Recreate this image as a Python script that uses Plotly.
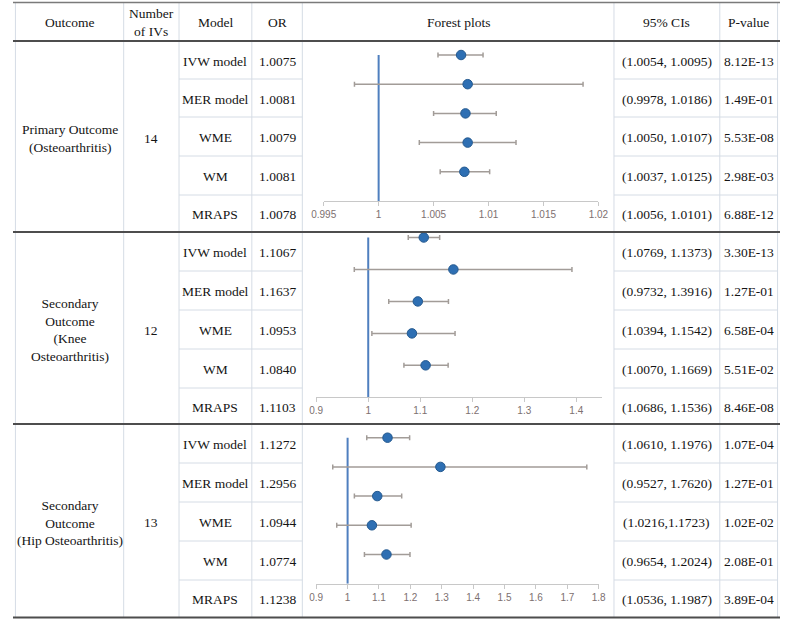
import plotly.graph_objects as go

W, H = 790, 620

# ---------------- data ----------------
outcomes = ["Primary Outcome<br>(Osteoarthritis)",
            "Secondary<br>Outcome<br>(Knee<br>Osteoarthritis)",
            "Secondary<br>Outcome<br>(Hip Osteoarthritis)"]
n_ivs = ["14", "12", "13"]
models = ["IVW model", "MER model", "WME", "WM", "MRAPS"]

or_primary = [1.0075, 1.0081, 1.0079, 1.0081, 1.0078]
lo_primary = [1.0054, 0.9978, 1.0050, 1.0037, 1.0056]
hi_primary = [1.0095, 1.0186, 1.0107, 1.0125, 1.0101]
p_primary = ["8.12E-13", "1.49E-01", "5.53E-08", "2.98E-03", "6.88E-12"]
ci_primary = ["(1.0054, 1.0095)", "(0.9978, 1.0186)", "(1.0050, 1.0107)",
              "(1.0037, 1.0125)", "(1.0056, 1.0101)"]

or_knee = [1.1067, 1.1637, 1.0953, 1.0840, 1.1103]
lo_knee = [1.0769, 0.9732, 1.0394, 1.0070, 1.0686]
hi_knee = [1.1373, 1.3916, 1.1542, 1.1669, 1.1536]
p_knee = ["3.30E-13", "1.27E-01", "6.58E-04", "5.51E-02", "8.46E-08"]
ci_knee = ["(1.0769, 1.1373)", "(0.9732, 1.3916)", "(1.0394, 1.1542)",
           "(1.0070, 1.1669)", "(1.0686, 1.1536)"]

or_hip = [1.1272, 1.2956, 1.0944, 1.0774, 1.1238]
lo_hip = [1.0610, 0.9527, 1.0216, 0.9654, 1.0536]
hi_hip = [1.1976, 1.7620, 1.1723, 1.2024, 1.1987]
p_hip = ["1.07E-04", "1.27E-01", "1.02E-02", "2.08E-01", "3.89E-04"]
ci_hip = ["(1.0610, 1.1976)", "(0.9527, 1.7620)", "(1.0216,1.1723)",
          "(0.9654, 1.2024)", "(1.0536, 1.1987)"]

ticks_primary = [0.995, 1, 1.005, 1.01, 1.015, 1.02]
ticklabels_primary = ["0.995", "1", "1.005", "1.01", "1.015", "1.02"]
ticks_knee = [0.9, 1, 1.1, 1.2, 1.3, 1.4]
ticklabels_knee = ["0.9", "1", "1.1", "1.2", "1.3", "1.4"]
ticks_hip = [0.9, 1, 1.1, 1.2, 1.3, 1.4, 1.5, 1.6, 1.7, 1.8]
ticklabels_hip = ["0.9", "1", "1.1", "1.2", "1.3", "1.4", "1.5", "1.6", "1.7", "1.8"]

headers = ["Outcome", "Number<br>of IVs", "Model", "OR", "Forest plots", "95% CIs", "P-value"]

sections = [
    dict(or_=or_primary, lo=lo_primary, hi=hi_primary, p=p_primary, ci=ci_primary,
         ticks=ticks_primary, labels=ticklabels_primary),
    dict(or_=or_knee, lo=lo_knee, hi=hi_knee, p=p_knee, ci=ci_knee,
         ticks=ticks_knee, labels=ticklabels_knee),
    dict(or_=or_hip, lo=lo_hip, hi=hi_hip, p=p_hip, ci=ci_hip,
         ticks=ticks_hip, labels=ticklabels_hip),
]

# ---------------- layout geometry (pixels) ----------------
col_x = [2.5, 114, 171, 246, 298, 619, 728, 787.5]
header_top, header_bot = 3, 41
sec_bounds = [
    [41, 79, 117, 156, 195, 232],
    [232, 271, 310, 349, 388, 424],
    [424, 463, 502, 541, 580, 617],
]
# forest plot geometry: (x pixel left, x pixel right, x range, y0 pixel, y-unit px)
forest_geo = [
    (320, 603, [0.995, 1.02], 201, 29.2),
    (312.3, 607, [0.9, 1.45], 397.3, 31.96),
    (312.3, 603.3, [0.9, 1.8], 583.7, 29.2),
]

def px(x):
    return x / W

def py(y):
    return 1 - y / H

TEXT_FONT = dict(family="Liberation Serif, Times New Roman, serif", size=13.5, color="#141414")
LIGHT = "#d5dce5"
DARK = "#4d4d4d"

fig = go.Figure()
shapes = []
annotations = []

# vertical light lines
for x in col_x:
    shapes.append(dict(type="line", xref="paper", yref="paper",
                       x0=px(x), x1=px(x), y0=py(header_top), y1=py(617),
                       line=dict(color=LIGHT, width=1)))

# row light lines (Model/OR and CI/P columns)
for b in sec_bounds:
    for y in b[1:-1]:
        shapes.append(dict(type="line", xref="paper", yref="paper",
                           x0=px(col_x[2]), x1=px(col_x[4]), y0=py(y), y1=py(y),
                           line=dict(color=LIGHT, width=1)))
        shapes.append(dict(type="line", xref="paper", yref="paper",
                           x0=px(col_x[5]), x1=px(col_x[7]), y0=py(y), y1=py(y),
                           line=dict(color=LIGHT, width=1)))

# dark horizontal lines
shapes.append(dict(type="line", xref="paper", yref="paper", x0=0, x1=1,
                   y0=py(2.5), y1=py(2.5), line=dict(color="#7a7a7a", width=1.5)))
for y in [41, 232, 424, 617.5]:
    shapes.append(dict(type="line", xref="paper", yref="paper", x0=0, x1=1,
                       y0=py(y), y1=py(y), line=dict(color=DARK, width=2)))

# headers
for i, h in enumerate(headers):
    cx = (col_x[i] + col_x[i + 1]) / 2
    annotations.append(dict(x=px(cx), y=py((header_top + header_bot) / 2), text=h,
                            xref="paper", yref="paper", showarrow=False,
                            xanchor="center", yanchor="middle", font=TEXT_FONT))

# body text
for s, (sec, b) in enumerate(zip(sections, sec_bounds)):
    mid = (b[0] + b[-1]) / 2
    annotations.append(dict(x=px((col_x[0] + col_x[1]) / 2), y=py(mid + 2), text=outcomes[s],
                            xref="paper", yref="paper", showarrow=False,
                            xanchor="center", yanchor="middle", font=TEXT_FONT))
    annotations.append(dict(x=px((col_x[1] + col_x[2]) / 2), y=py(mid + 2), text=n_ivs[s],
                            xref="paper", yref="paper", showarrow=False,
                            xanchor="center", yanchor="middle", font=TEXT_FONT))
    for r in range(5):
        cy = (b[r] + b[r + 1]) / 2 + 1
        vals = [models[r], f"{sec['or_'][r]:.4f}", None, sec["ci"][r], sec["p"][r]]
        cols = [2, 3, None, 5, 6]
        for v, c in zip(vals, cols):
            if v is None:
                continue
            annotations.append(dict(x=px((col_x[c] + col_x[c + 1]) / 2), y=py(cy), text=v,
                                    xref="paper", yref="paper", showarrow=False,
                                    xanchor="center", yanchor="middle", font=TEXT_FONT))

# forest plots
ypos = [5, 4, 3, 2, 1]
TOPU = 5.35
for s, sec in enumerate(sections):
    xl, xr, xrng, y0p, unit = forest_geo[s]
    xa = "x" if s == 0 else f"x{s + 1}"
    ya = "y" if s == 0 else f"y{s + 1}"
    xkey = "xaxis" if s == 0 else f"xaxis{s + 1}"
    ykey = "yaxis" if s == 0 else f"yaxis{s + 1}"
    top_px = y0p - TOPU * unit
    fig.add_trace(go.Scatter(x=[1, 1], y=[0, 5], mode="lines", xaxis=xa, yaxis=ya,
                             line=dict(color="#4f7fbf", width=2), hoverinfo="skip",
                             showlegend=False, cliponaxis=False))
    plus = [h - o for h, o in zip(sec["hi"], sec["or_"])]
    minus = [o - l for o, l in zip(sec["or_"], sec["lo"])]
    fig.add_trace(go.Scatter(x=sec["or_"], y=ypos, mode="markers", xaxis=xa, yaxis=ya,
                             marker=dict(size=9.5, color="#2e6fb3",
                                         line=dict(color="#24598f", width=1)),
                             error_x=dict(type="data", symmetric=False, array=plus,
                                          arrayminus=minus, color="#a29c98",
                                          thickness=1.5, width=2.5),
                             showlegend=False, cliponaxis=False))
    fig.layout[xkey] = dict(domain=[px(xl), px(xr)], range=xrng, anchor=ya,
                            tickvals=sec["ticks"], ticktext=sec["labels"],
                            showgrid=False, zeroline=False, showline=True,
                            linecolor="#c8c8c8", linewidth=1, ticks="outside",
                            ticklen=4, tickcolor="#c8c8c8",
                            tickfont=dict(family="Liberation Sans, Arial, sans-serif",
                                          size=10, color="#7d7070"))
    fig.layout[ykey] = dict(domain=[py(y0p), py(top_px)], range=[0, TOPU], anchor=xa,
                            visible=False, showgrid=False, zeroline=False)

fig.update_layout(width=W, height=H, margin=dict(l=0, r=0, t=0, b=0),
                  paper_bgcolor="white", plot_bgcolor="rgba(0,0,0,0)",
                  shapes=shapes, annotations=annotations, showlegend=False)

fig.write_html("out.html",
               config={"displayModeBar": False},
               post_script="document.body.style.margin='0';"
                           "document.body.style.overflow='hidden';")
